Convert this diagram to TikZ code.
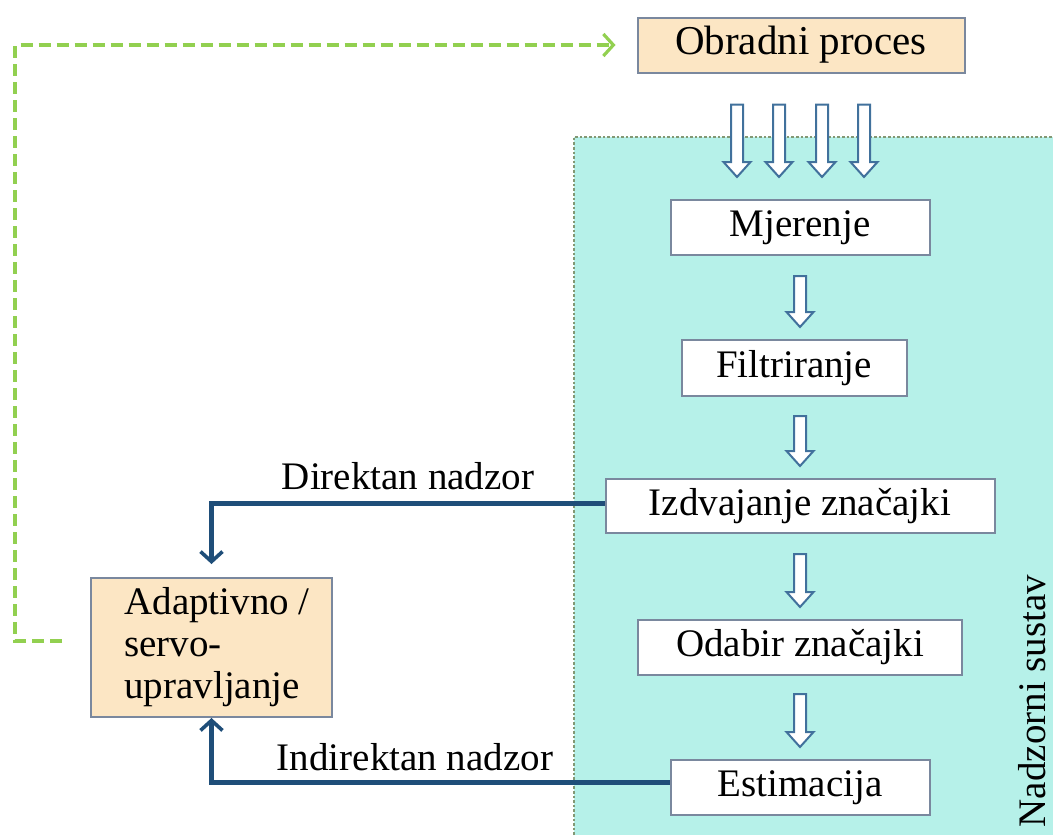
\documentclass[tikz,border=0pt]{standalone}
\usepackage{fontspec}
\setmainfont{Liberation Serif}
\usetikzlibrary{calc,arrows.meta}
\definecolor{tanfill}{RGB}{252,230,196}
\definecolor{boxline}{RGB}{122,136,158}
\definecolor{aquafill}{RGB}{182,241,233}
\definecolor{dotline}{RGB}{130,152,116}
\definecolor{arrowblue}{RGB}{65,113,156}
\definecolor{ctrlblue}{RGB}{31,78,121}
\definecolor{fbgreen}{RGB}{146,208,80}

% hollow block arrow pointing down, from #1 to #2
\newcommand\blockarrow[2]{%
  \draw[hollowarrow] let \p1=(#1), \p2=(#2) in
    ({\x1-3pt},\y1) -- ({\x1+3pt},\y1) -- ({\x1+3pt},{\y2+7.5pt})
    -- ({\x1+6.75pt},{\y2+7.5pt}) -- (\x1,\y2)
    -- ({\x1-6.75pt},{\y2+7.5pt}) -- ({\x1-3pt},{\y2+7.5pt}) -- cycle;}

\begin{document}
\begin{tikzpicture}[x=.5pt,y=-.5pt,
      every node/.style={font=\fontsize{19.5}{21}\selectfont,inner sep=0pt},
      box/.style={draw=boxline,line width=1pt,fill=white,minimum height=27.5pt},
      procbox/.style={box,fill=tanfill},
      hollowarrow/.style={draw=arrowblue,line width=1pt,fill=white,line join=miter},
      ctrl/.style={draw=ctrlblue,line width=2.5pt,-{Straight Barb[length=5pt,width=11pt,line width=1.8pt]}},
      feedback/.style={draw=fbgreen,line width=2pt,dash pattern=on 6pt off 3pt,
        -{Straight Barb[length=5pt,width=11pt,line width=1.6pt]}}]
    \useasboundingbox (0,0) rectangle (1053,835);

    % nadzorni sustav
    \fill[aquafill] (574,137) rectangle (1053,835);
    \draw[dotline,line width=1.3pt,dash pattern=on 1.3pt off 1pt] (574,835) -- (574,137) -- (1053,137);
    \node[rotate=90] (nadz) at (1032,701) {Nadzorni sustav};

    % blokovi
    \node[procbox,minimum width=163.5pt,font=\fontsize{20.5}{22}\selectfont] (proc) at (801,45) {Obradni proces};
    \node[box,minimum width=129.5pt] (mjer) at (800,227.5) {Mjerenje};
    \node[box,minimum width=112.5pt,minimum height=28pt] (filt) at (794,368) {Filtriranje};
    \node[box,minimum width=194.5pt,minimum height=27pt] (izdv) at (800,506) {Izdvajanje značajki};
    \node[box,minimum width=162pt] (odab) at (800,647.5) {Odabir značajki};
    \node[box,minimum width=129.5pt] (esti) at (800,787.5) {Estimacija};
    \node[procbox,minimum width=120.5pt,minimum height=69.5pt] (adap) at (211.5,647.5) {};
    \node[right,align=left] (adaptxt) at ([xshift=17pt]adap.west) {Adaptivno /\\servo-\\upravljanje};

    % tok signala
    \foreach \dx in {-64,-22,21,63}
      \blockarrow{$(proc.south)+(\dx,31)$}{$(mjer.north)+(\dx,-22)$};
    \blockarrow{$(mjer.south)+(0,20)$}{$(filt.north)+(0,-12)$}
    \blockarrow{$(filt.south)+(6,19)$}{$(izdv.north)+(6,-12)$}
    \blockarrow{$(izdv.south)+(0,20)$}{$(odab.north)+(0,-12)$}
    \blockarrow{$(odab.south)+(0,18)$}{$(esti.north)+(0,-12)$}

    % nadzor
    \draw[ctrl,shorten >=6.5pt] ([yshift=1.5pt]izdv.west) -| (adap.north);
    \node (dirlbl) at (408,476) {Direktan nadzor};
    \draw[ctrl] ([yshift=2.5pt]esti.west) -| (adap.south);
    \node (indlbl) at (415,757) {Indirektan nadzor};

    % povratna veza
    \coordinate (fbcorner) at (15,45);
    \draw[feedback,shorten >=10.5pt] ([xshift=-14pt,yshift=3.5pt]adap.west) -| (fbcorner) -- (proc.west);
  \end{tikzpicture}
\end{document}
